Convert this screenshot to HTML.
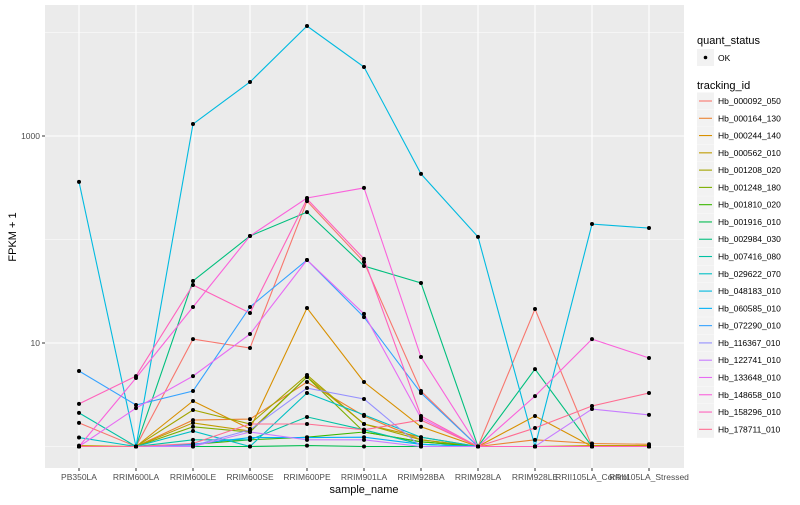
<!DOCTYPE html>
<html><head><meta charset="utf-8">
<style>
body{margin:0;background:#fff;font-family:"Liberation Sans",sans-serif;}
svg text{font-family:"Liberation Sans",sans-serif;}
</style></head>
<body>
<svg id="chart" width="800" height="500" viewBox="0 0 800 500" xmlns="http://www.w3.org/2000/svg">
<rect width="800" height="500" fill="#fff"/>
<rect x="45" y="5" width="639" height="463" fill="#EBEBEB"/>
<g id="grid"></g>
<g id="lines"></g>
<g id="points"></g>
<g id="axes"></g>
<text x="364" y="493" font-size="11" text-anchor="middle" fill="#000">sample_name</text>
<text transform="translate(16,237) rotate(-90)" font-size="11" text-anchor="middle" fill="#000">FPKM + 1</text>
<g id="legend"></g>
</svg>
<script>
const samples = ["PB350LA","RRIM600LA","RRIM600LE","RRIM600SE","RRIM600PE","RRIM901LA","RRIM928BA","RRIM928LA","RRIM928LE","RRII105LA_Control","RRII105LA_Stressed"];
const trackingIds = ["Hb_000092_050","Hb_000164_130","Hb_000244_140","Hb_000562_010","Hb_001208_020","Hb_001248_180","Hb_001810_020","Hb_001916_010","Hb_002984_030","Hb_007416_080","Hb_029622_070","Hb_048183_010","Hb_060585_010","Hb_072290_010","Hb_116367_010","Hb_122741_010","Hb_133648_010","Hb_148658_010","Hb_158296_010","Hb_178711_010"];
const colors = ["#F8766D","#EA8331","#D89000","#C09B00","#A3A500","#7CAE00","#39B600","#00BB4E","#00BF7D","#00C1A3","#00BFC4","#00BAE0","#00B0F6","#35A2FF","#9590FF","#C77CFF","#E76BF3","#FA62DB","#FF62BC","#FF6C91"];
const yTicks = [10, 1000];
const yTickLabels = ["10", "1000"];
const yMinor = [1, 100, 10000];
const s000092 = [1.69,1,10.9,8.95,235,60.6,3.44,1,21.3,1,1];
const s000164 = [1,1,1.8,1.84,4.2,1.97,1.16,1,1.16,1.07,1.05];
const s000244 = [1,1,2.75,1.48,21.8,4.2,1.55,1,1.97,1,1];
const s000562 = [1.02,1,1.69,1.41,4.69,1.65,1.23,1,1,1.02,1.02];
const s001208 = [1,1,2.25,1.65,4.91,1.65,1.16,1,1,1,1];
const s001248 = [1,1,1.55,1.38,4.69,1.38,1.11,1,1,1,1];
const s001810 = [1,1,1.05,1.16,1.23,1.38,1.11,1,1,1,1];
const s001916 = [1,1,1,1,1.02,1,1,1,1,1,1];
const s002984 = [1,1,39.7,108,184,55.5,38,1,5.6,1,1];
const s007416 = [2.11,1,1.16,1.16,1.93,1.45,1.05,1,1,1,1];
const s029622 = [1.22,1,1.41,1,3.29,2.02,1.23,1,1,1,1];
const s048183 = [360,1,1306,3325,11560,4640,430,106,1,141,129];
const s060585 = [1,1,1.05,1.22,1.22,1.23,1.05,1,1,1,1];
const s072290 = [5.36,2.52,3.44,22.3,63.4,17.8,3.29,1,1,1,1];
const s116367 = [1,1,1.02,1.45,3.67,2.88,1,1,1,1,1];
const s122741 = [1,1,1,1.38,1.16,1.16,1,1,1,2.3,2.02];
const s133648 = [1,2.35,4.79,12.2,63.4,19.1,1.88,1,1,1,1];
const s148658 = [1,4.59,22.3,108,252,315,7.33,1,3.07,10.9,7.16];
const s158296 = [2.58,4.79,36.3,19.5,246,65,1.97,1,1,1,1];
const s178711 = [1,1,1.07,1.65,1.65,1.45,1.8,1,1.51,2.46,3.29];
const series = [s000092,s000164,s000244,s000562,s001208,s001248,s001810,s001916,s002984,s007416,s029622,s048183,s060585,s072290,s116367,s122741,s133648,s148658,s158296,s178711];

const NS="http://www.w3.org/2000/svg";
function xPos(i){return 79 + i*57;}
function yPos(v){return 343 - (Math.log10(v)-1)*103.5;}
function mk(tag, attrs, parent){const e=document.createElementNS(NS,tag);for(const k in attrs)e.setAttribute(k,attrs[k]);parent.appendChild(e);return e;}

const grid=document.getElementById('grid');
yMinor.forEach(v=>{
  const l=mk('line',{x1:45,x2:684,y1:yPos(v),y2:yPos(v),stroke:'#fff','stroke-width':0.5},grid);
  
  
});
yTicks.forEach(v=>{
  const l=mk('line',{x1:45,x2:684,y1:yPos(v),y2:yPos(v),stroke:'#fff','stroke-width':1.1},grid);
  
  
});
samples.forEach((s,i)=>{
  const l=mk('line',{x1:xPos(i),x2:xPos(i),y1:5,y2:468,stroke:'#fff','stroke-width':1.1},grid);
  
  
});

const lines=document.getElementById('lines');
const pts=document.getElementById('points');
series.forEach((vals,k)=>{
  const d=vals.map((v,i)=>(i?'L':'M')+xPos(i).toFixed(1)+','+yPos(v).toFixed(1)).join(' ');
  const p=mk('path',{d:d,fill:'none',stroke:colors[k],'stroke-width':1.1},lines);
  
  
});
series.forEach((vals,k)=>{
  vals.forEach((v,i)=>{
    const c=mk('circle',{cx:xPos(i),cy:yPos(v),r:2,fill:'#000'},pts);
    
    
  });
});

const axes=document.getElementById('axes');
yTicks.forEach((v,i)=>{
  const t=mk('line',{x1:42,x2:45,y1:yPos(v),y2:yPos(v),stroke:'#333','stroke-width':1},axes);
  
  
  const tx=mk('text',{x:40,y:yPos(v)+3,'font-size':8.5,'text-anchor':'end',fill:'#4D4D4D'},axes);
  tx.textContent=yTickLabels[i];
  
  
});
samples.forEach((s,i)=>{
  const t=mk('line',{x1:xPos(i),x2:xPos(i),y1:468,y2:471,stroke:'#333','stroke-width':1},axes);
  
  
  const tx=mk('text',{x:xPos(i),y:480,'font-size':8.5,'text-anchor':'middle',fill:'#4D4D4D'},axes);
  tx.textContent=s;
  
  
});

const lg=document.getElementById('legend');
const t1=mk('text',{x:697,y:44,'font-size':11,fill:'#000'},lg);
t1.textContent='quant_status';


const kb=mk('rect',{x:697,y:49,width:17,height:17,fill:'#F2F2F2'},lg);


const kd=mk('circle',{cx:705.5,cy:57.5,r:1.8,fill:'#000'},lg);


const ko=mk('text',{x:718,y:61,'font-size':8.5,fill:'#000'},lg);
ko.textContent='OK';


const t2=mk('text',{x:697,y:89,'font-size':11,fill:'#000'},lg);
t2.textContent='tracking_id';


trackingIds.forEach((id,k)=>{
  const cy=101+k*17.28;
  const r=mk('rect',{x:697,y:cy-8.5,width:17,height:17,fill:'#F2F2F2'},lg);
  
  
  const l=mk('line',{x1:699,x2:712,y1:cy,y2:cy,stroke:colors[k],'stroke-width':1.1},lg);
  
  
  const tx=mk('text',{x:718,y:cy+3,'font-size':8.5,fill:'#000'},lg);
  tx.textContent=id;
  
  
});
</script>
</body></html>
